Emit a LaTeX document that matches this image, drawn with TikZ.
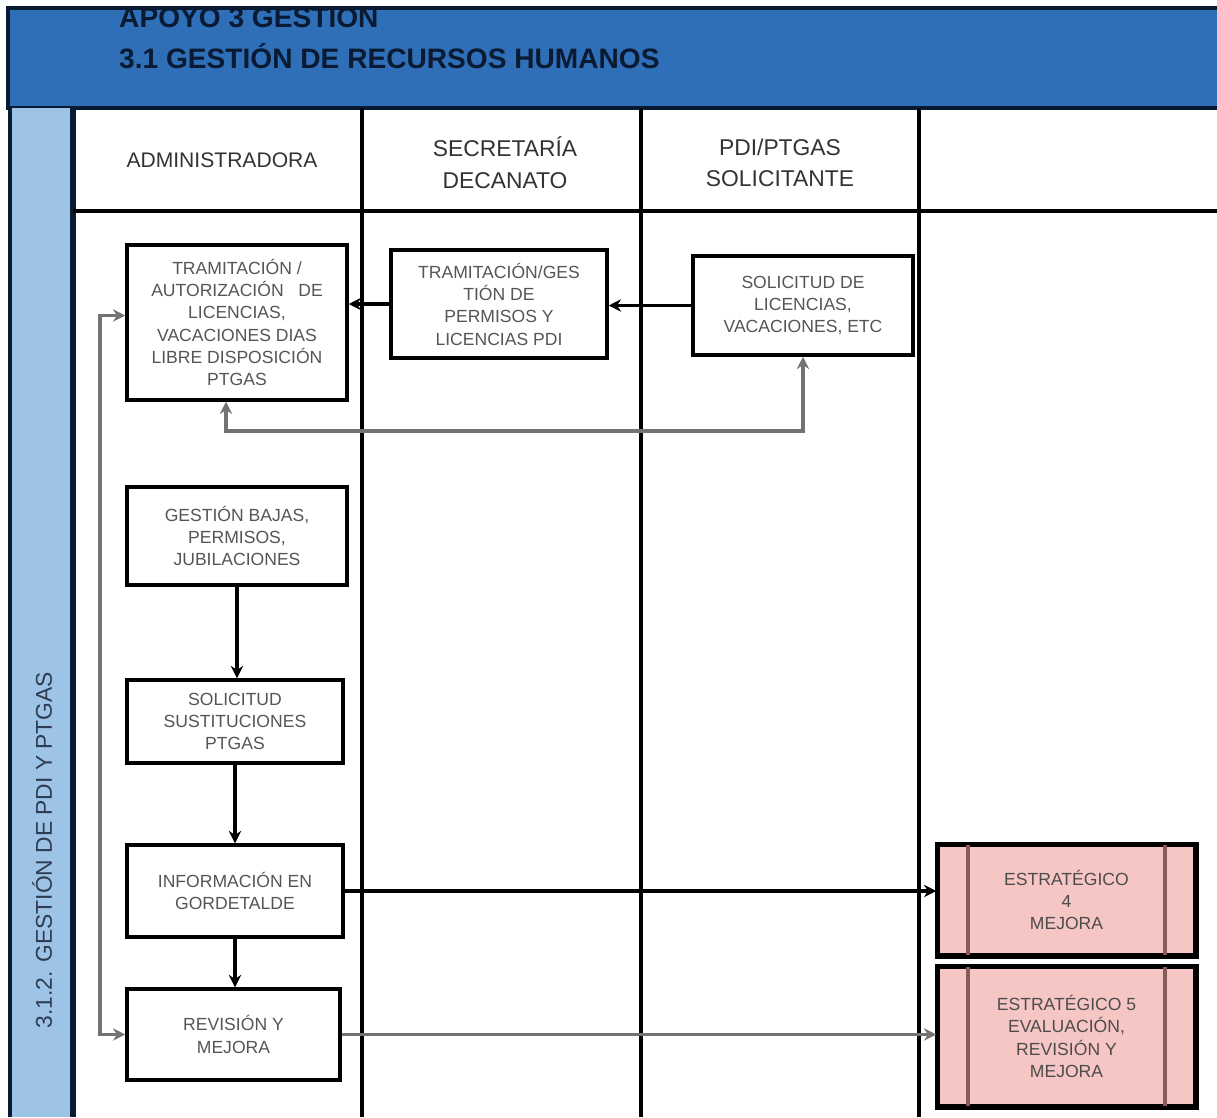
\documentclass[tikz,border=0pt]{standalone}
\usepackage{fontspec}
\setmainfont{Liberation Sans}
\usetikzlibrary{arrows.meta,positioning}

\definecolor{hdrblue}{HTML}{2F6FB7}
\definecolor{lanefill}{HTML}{9DC3E6}
\definecolor{navy}{HTML}{0A1A33}
\definecolor{pinkfill}{HTML}{F6C6C4}
\definecolor{pinkline}{HTML}{8A5A5A}
\definecolor{boxtext}{HTML}{555555}

\begin{document}
\begin{tikzpicture}[x=0.02cm,y=-0.02cm]
    \tikzset{
        box/.style={draw=black,line width=2pt,fill=white,align=center,
            text=boxtext,font=\fontsize{10}{12.7}\selectfont,inner sep=2pt},
        pinkbox/.style={box,fill=pinkfill,text=black!70},
        colhead/.style={align=center,text=black!80,font=\fontsize{13}{18}\selectfont},
        lanerule/.style={line width=2pt},
        flow/.style={line width=1.9pt,-{Stealth[length=7pt,width=7pt]}},
        grayflow/.style={line width=2.2pt,draw=black!55,
            {Stealth[length=7pt,width=7pt]}-{Stealth[length=7pt,width=7pt]}}
    }
    \useasboundingbox (0,0) rectangle (1217,1117);

    % header
    \fill[hdrblue] (8,8) rectangle (1217,108);
    \node[anchor=west,text=navy,font=\bfseries\fontsize{16}{18}\selectfont] (title1) at (113,18) {APOYO 3 GESTION};
    \node[anchor=west,text=navy,font=\bfseries\fontsize{16}{18}\selectfont] (title2) at (113,56) {3.1 GESTIÓN DE RECURSOS HUMANOS};
    \draw[navy,line width=2.5pt] (1217,8) -- (8,8) -- (8,108) -- (1217,108);

    % lane
    \fill[lanefill] (10,108) rectangle (73,1117);
    \draw[navy,line width=2pt] (10,108) -- (10,1117);
    \draw[navy,line width=3pt] (73,108) -- (73,1117);
    \node[rotate=90,text=navy!85,font=\fontsize{13}{15}\selectfont] (lanename) at (42,850) {3.1.2. GESTIÓN DE PDI Y PTGAS};

    % columns
    \foreach \cx in {362,641,919}
        \draw[lanerule] (\cx,108) -- (\cx,1117);
    \draw[lanerule] (73,211) -- (1217,211);
    \node[colhead,font=\fontsize{12}{18}\selectfont] (admin) at (222,160) {ADMINISTRADORA};
    \node[colhead] (secre) at (505,163) {SECRETARÍA\\DECANATO};
    \node[colhead] (solic) at (780,163) {PDI/PTGAS\\SOLICITANTE};

    % steps
    \node[box,minimum width=4.4cm,minimum height=3.1cm] (tramit) at (237,322.5)
        {TRAMITACIÓN /\\AUTORIZACIÓN\ \ \ DE\\LICENCIAS,\\VACACIONES DIAS\\LIBRE DISPOSICIÓN\\PTGAS};
    \node[box,minimum width=4.32cm,minimum height=2.16cm] (permpdi) at (499,304)
        {TRAMITACIÓN/GES\\TIÓN DE\\PERMISOS Y\\LICENCIAS PDI};
    \node[box,minimum width=4.4cm,minimum height=1.98cm] (solicitud) at (803,305.5)
        {SOLICITUD DE\\LICENCIAS,\\VACACIONES, ETC};
    \node[box,minimum width=4.4cm,minimum height=1.96cm] (bajas) at (237,536)
        {GESTIÓN BAJAS,\\PERMISOS,\\JUBILACIONES};
    \node[box,minimum width=4.32cm,minimum height=1.66cm] (sustit) at (235,721.5)
        {SOLICITUD\\SUSTITUCIONES\\PTGAS};
    \node[box,minimum width=4.32cm,minimum height=1.84cm] (info) at (235,891)
        {INFORMACIÓN EN\\GORDETALDE};
    \node[box,minimum width=4.26cm,minimum height=1.82cm] (revision) at (233.5,1034.5)
        {REVISIÓN Y\\MEJORA};

    % strategic links
    \node[pinkbox,minimum width=5.14cm,minimum height=2.2cm] (estr4) at (1066.5,900)
        {ESTRATÉGICO\\4\\MEJORA};
    \node[pinkbox,minimum width=5.14cm,minimum height=2.78cm] (estr5) at (1066.5,1036.5)
        {ESTRATÉGICO 5\\EVALUACIÓN,\\REVISIÓN Y\\MEJORA};
    \foreach \pb in {estr4,estr5} {
        \draw[pinkline,line width=2.5pt] ([xshift=0.64cm]\pb.north west) -- ([xshift=0.64cm]\pb.south west);
        \draw[pinkline,line width=2.5pt] ([xshift=-0.64cm]\pb.north east) -- ([xshift=-0.64cm]\pb.south east);
        \draw[black,line width=2pt] (\pb.north west) rectangle (\pb.south east);
    }

    % flows
    \coordinate (loopy) at (0,431);
    \draw[flow] (solicitud.west) -- (solicitud.west -| permpdi.east);
    \draw[flow] (permpdi.west) -- (permpdi.west -| tramit.east);
    \draw[grayflow] ([xshift=-0.22cm]tramit.south) |- (loopy -| solicitud.south) -- (solicitud.south);
    \draw[flow] (bajas.south) -- (bajas.south |- sustit.north);
    \draw[flow] (sustit.south) -- (info.north);
    \draw[flow] (info.south) -- (info.south |- revision.north);
    \draw[flow] (info.east) -- (info.east -| estr4.west);
    \draw[flow,draw=black!55] (revision.east) -- (revision.east -| estr5.west);
    \draw[grayflow] ([yshift=0.14cm]tramit.west) -- ++(-25,0) |- (revision.west);
\end{tikzpicture}
\end{document}
